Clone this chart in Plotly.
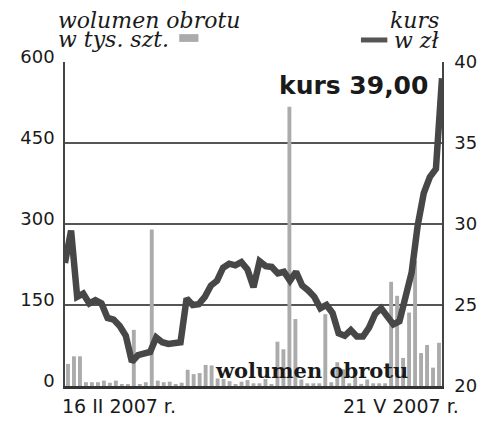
import plotly.graph_objects as go

# sesje od 16 II 2007 do 21 V 2007 (63 sesje)
sesje = list(range(63))

# wolumen obrotu w tys. szt.
wolumen = [41, 55, 55, 7, 7, 7, 10, 6, 10, 2, 3, 104, 3, 7, 290, 10, 7, 8, 3, 6,
           30, 22, 24, 39, 38, 14, 13, 9, 3, 8, 11, 5, 5, 13, 2, 82, 68, 517, 124, 12,
           5, 5, 5, 133, 7, 44, 31, 5, 17, 4, 12, 5, 5, 5, 193, 167, 52, 136, 232, 61,
           76, 34, 80]

# kurs w zl
kurs = [27.6, 29.6, 25.5, 25.7, 25.1, 25.3, 25.1, 24.2, 24.1, 23.7, 23.1, 21.5, 21.9,
        22.0, 22.1, 23.0, 22.7, 22.6, 22.65, 22.7, 25.4, 25.0, 25.05, 25.5, 26.2, 26.5,
        27.3, 27.55, 27.45, 27.65, 27.2, 26.1, 27.7, 27.4, 27.35, 26.95, 27.05, 26.5,
        27.05, 26.2, 25.9, 25.5, 24.8, 25.0, 24.5, 23.25, 23.1, 23.45, 23.05, 23.05,
        23.6, 24.45, 24.8, 24.35, 23.8, 24.0, 25.5, 27.0, 29.9, 31.9, 32.9, 33.4, 39.0]

lewa_os = [0, 150, 300, 450, 600]
prawa_os = [20, 25, 30, 35, 40]

TICK_FONT = dict(family="DejaVu Sans", size=18, color="#1a1a1a")
TITLE_FONT = dict(family="DejaVu Serif", size=22, color="#1a1a1a")

fig = go.Figure()
fig.add_trace(go.Bar(
    x=sesje, y=wolumen, width=0.65, marker=dict(color="#ababab", line=dict(width=0)),
    name="wolumen obrotu",
))
fig.add_trace(go.Scatter(
    x=sesje, y=kurs, mode="lines", xaxis="x2", yaxis="y2",
    line=dict(color="#474747", width=6.5), name="kurs",
))

# strona ma 8 px marginesu, wiec wykres jest o tyle mniejszy
fig.update_layout(
    width=492, height=422,
    margin=dict(l=44, r=58, t=54, b=44),
    paper_bgcolor="white", plot_bgcolor="white",
    showlegend=False,
    xaxis=dict(range=[-0.5, 62.5], showticklabels=False, showgrid=False, zeroline=False,
               showline=True, linecolor="#333333", linewidth=2.5, ticks=""),
    xaxis2=dict(range=[0, 62], overlaying="x", visible=False),
    yaxis=dict(range=[0, 600], tickvals=lewa_os, showgrid=True, gridcolor="#555555",
               gridwidth=1.5, zeroline=False, showline=True, linecolor="#444444",
               linewidth=1.5, ticks="", tickfont=TICK_FONT, ticklabelshift=-5,
               ticklabelstandoff=5),
    yaxis2=dict(range=[20, 40], tickvals=prawa_os, overlaying="y", side="right",
                showgrid=False, zeroline=False, showline=True, linecolor="#444444",
                linewidth=1.5, ticks="", tickfont=TICK_FONT, ticklabelstandoff=7),
)

# legenda: prostokat wolumenu i linia kursu
fig.add_shape(type="rect", xref="paper", yref="paper", x0=0.303, x1=0.354, y0=1.062,
              y1=1.086, fillcolor="#ababab", line=dict(width=0))
fig.add_shape(type="line", xref="paper", yref="paper", x0=0.785, x1=0.855, y0=1.068,
              y1=1.068, line=dict(color="#555555", width=5))

annotations = [
    dict(text="<i>wolumen obrotu</i>", x=-0.025, y=1.128, xanchor="left", font=TITLE_FONT),
    dict(text="<i>w tys. szt.</i>", x=-0.025, y=1.068, xanchor="left", font=TITLE_FONT),
    dict(text="<i>kurs</i>", x=0.997, y=1.128, xanchor="right", font=TITLE_FONT),
    dict(text="<i>w zł</i>", x=0.997, y=1.066, xanchor="right", font=TITLE_FONT),
    dict(text="<b>kurs 39,00</b>", x=0.969, y=0.926, xanchor="right",
         font=dict(family="DejaVu Sans", size=25, color="#1a1a1a")),
    dict(text="<b>wolumen obrotu</b>", x=0.654, y=0.048, xanchor="center",
         font=dict(family="DejaVu Serif", size=21, color="#1a1a1a")),
    dict(text="16 II 2007 r.", x=-0.012, y=-0.062, xanchor="left",
         font=dict(TICK_FONT, size=19)),
    dict(text="21 V 2007 r.", x=1.05, y=-0.062, xanchor="right",
         font=dict(TICK_FONT, size=19)),
]
for a in annotations:
    fig.add_annotation(xref="paper", yref="paper", showarrow=False, yanchor="middle", **a)

fig.write_html("out.html")
